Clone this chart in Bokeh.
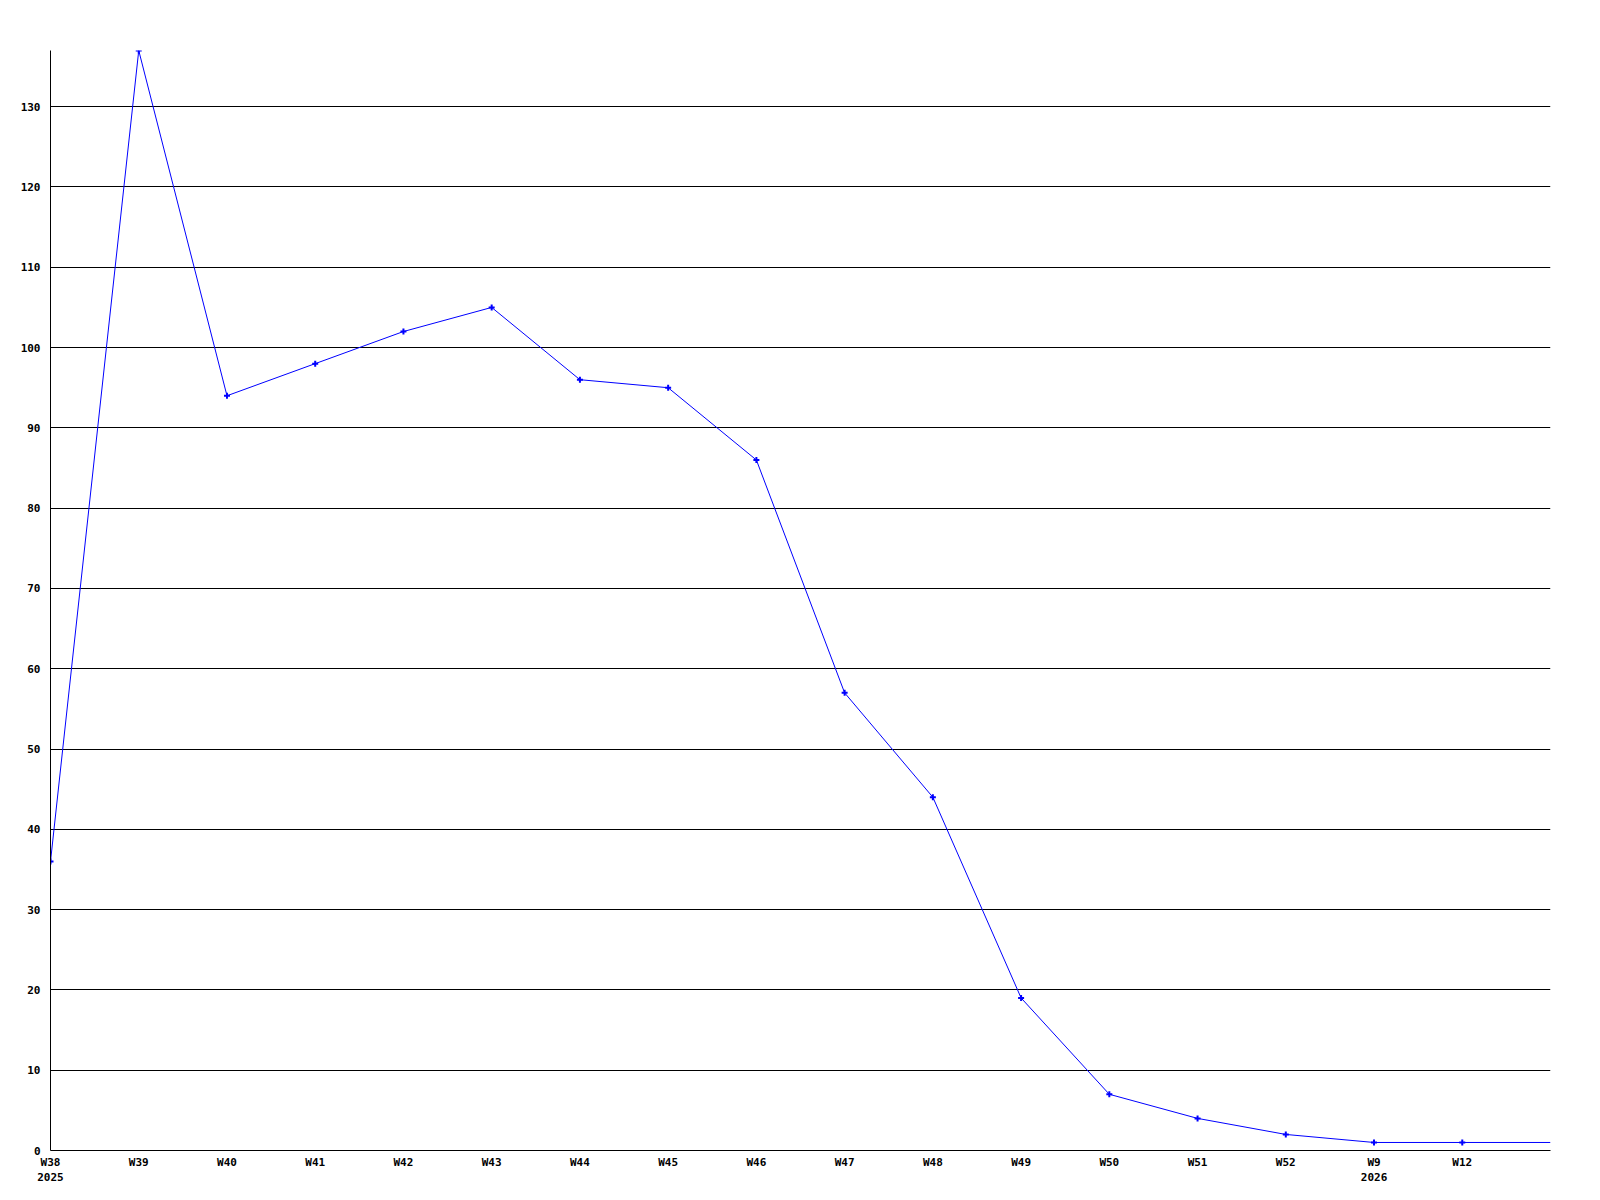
from bokeh.plotting import figure
from bokeh.models import FixedTicker, Range1d
from bokeh.embed import file_html
from bokeh.resources import INLINE

# Data
weeks = ["W38", "W39", "W40", "W41", "W42", "W43", "W44", "W45", "W46",
         "W47", "W48", "W49", "W50", "W51", "W52", "W9", "W12", ""]
years = ["2025", "", "", "", "", "", "", "", "", "", "", "", "", "", "", "2026", "", ""]
counts = [36, 137, 94, 98, 102, 105, 96, 95, 86, 57, 44, 19, 7, 4, 2, 1, 1, 1]
y_ticks = [0, 10, 20, 30, 40, 50, 60, 70, 80, 90, 100, 110, 120, 130]

FONT = "DejaVu Sans Mono"
FS = "11px"

xs = list(range(len(counts)))
n_vis = len(counts) - 1  # last point lies on the right edge (continuation)

p = figure(frame_width=1500, frame_height=1100, output_backend="svg", toolbar_location=None,
           x_range=Range1d(0, xs[-1]), y_range=Range1d(0, max(counts)),
           min_border_left=50, min_border_right=34, min_border_top=50, min_border_bottom=30)
p.outline_line_color = None
p.background_fill_color = "white"
p.border_fill_color = "white"

# grid
p.xgrid.visible = False
p.ygrid.grid_line_color = "black"
p.ygrid.grid_line_width = 1
p.ygrid.ticker = FixedTicker(ticks=y_ticks)

# axes
p.yaxis.ticker = FixedTicker(ticks=y_ticks)
p.xaxis.ticker = FixedTicker(ticks=xs[:n_vis])
p.xaxis.major_label_overrides = {
    i: (weeks[i] + ("\n" + years[i] if years[i] else "")) for i in range(n_vis)}
for ax in (p.xaxis[0], p.yaxis[0]):
    ax.axis_line_color = "black"
    ax.axis_line_width = 1
    ax.major_tick_out = 0
    ax.major_tick_in = 0
    ax.minor_tick_out = 0
    ax.minor_tick_in = 0
    ax.major_label_text_font = FONT
    ax.major_label_text_font_size = FS
    ax.major_label_text_font_style = "bold"
    ax.major_label_text_color = "black"
# y labels are left-aligned in a column left of the axis
p.yaxis.major_label_standoff = 10
p.yaxis.major_label_text_align = "left"
p.xaxis.major_label_standoff = 5
p.xaxis.major_label_text_line_height = 1.2

# series
p.line(xs, counts, line_color="#0000ff", line_width=1)
p.scatter(xs[:n_vis], counts[:n_vis], marker="cross", size=6, line_color="#0000ff", line_width=2)

open("out.html", "w").write(file_html(p, INLINE))
